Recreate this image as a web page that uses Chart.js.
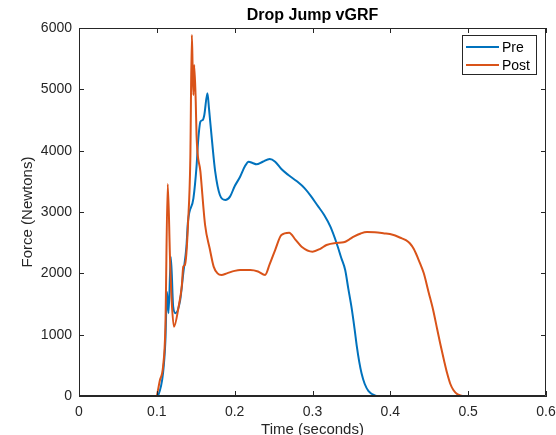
<!DOCTYPE html>
<html>
<head>
<meta charset="utf-8">
<script src="https://cdn.jsdelivr.net/npm/chart.js@4"></script>
<style>
  html, body { margin: 0; padding: 0; background: #fff; }
  #wrap { width: 556px; height: 435px; }
</style>
</head>
<body>
<div id="wrap"><canvas id="grafico" width="556" height="435"></canvas></div>
<script>
// datos (tiempo en s, fuerza en N)
const preTime = [0, 0.1, 0.102, 0.108, 0.111, 0.113, 0.115, 0.118, 0.121, 0.124, 0.13, 0.134, 0.138, 0.14, 0.147, 0.151, 0.153, 0.156, 0.159, 0.161, 0.165, 0.167, 0.171, 0.175, 0.181, 0.188, 0.194, 0.2, 0.207, 0.213, 0.218, 0.223, 0.228, 0.236, 0.245, 0.252, 0.26, 0.269, 0.28, 0.29, 0.298, 0.306, 0.315, 0.323, 0.331, 0.337, 0.342, 0.346, 0.35, 0.354, 0.357, 0.36, 0.363, 0.367, 0.372, 0.38, 0.385, 0.577];
const preForce = [0, 0, 20, 375, 900, 1700, 1350, 2270, 1456, 1350, 1565, 2005, 2434, 2842, 3223, 3740, 4147, 4473, 4500, 4581, 4935, 4690, 4147, 3657, 3277, 3196, 3250, 3420, 3575, 3740, 3820, 3800, 3778, 3820, 3864, 3820, 3700, 3603, 3500, 3386, 3260, 3114, 2950, 2760, 2490, 2250, 2054, 1750, 1456, 1100, 804, 560, 370, 200, 80, 10, 0, 0];

const postTime = [0, 0.099, 0.104, 0.108, 0.111, 0.114, 0.117, 0.119, 0.122, 0.128, 0.132, 0.134, 0.136, 0.138, 0.14, 0.143, 0.145, 0.146, 0.147, 0.148, 0.15, 0.151, 0.156, 0.162, 0.168, 0.173, 0.178, 0.183, 0.19, 0.2, 0.207, 0.22, 0.23, 0.239, 0.245, 0.252, 0.26, 0.27, 0.278, 0.286, 0.3, 0.31, 0.318, 0.33, 0.34, 0.347, 0.353, 0.362, 0.37, 0.38, 0.391, 0.403, 0.413, 0.42, 0.425, 0.43, 0.437, 0.443, 0.449, 0.455, 0.46, 0.464, 0.469, 0.473, 0.477, 0.481, 0.486, 0.49, 0.495, 0.548];
const postForce = [0, 0, 260, 480, 1130, 3457, 2218, 1565, 1130, 1456, 1782, 2108, 2136, 2330, 2790, 3848, 5886, 5350, 4908, 5397, 4800, 4256, 3657, 2788, 2400, 2110, 2000, 1973, 2000, 2040, 2054, 2054, 2030, 1973, 2150, 2380, 2625, 2663, 2550, 2434, 2353, 2400, 2462, 2495, 2506, 2550, 2597, 2650, 2674, 2670, 2653, 2630, 2580, 2540, 2490, 2400, 2200, 2000, 1700, 1402, 1100, 859, 580, 370, 200, 98, 30, 10, 0, 0];

const xTicks = [0, 0.1, 0.2, 0.3, 0.4, 0.5, 0.6];
const yTicks = [0, 1000, 2000, 3000, 4000, 5000, 6000];

const nombres = ["Pre", "Post"];
const colores = ["#0072BD", "#D95319"];
const fuente = "'Liberation Sans', Arial, Helvetica, sans-serif";
const gris = "#262626";

const puntos = (ts, fs) => ts.map((t, i) => ({ x: t, y: fs[i] }));

// caja, marcas hacia dentro, titulo y leyenda (estilo MATLAB)
const estiloMatlab = {
  id: "estiloMatlab",
  afterDraw(chart) {
    const ctx = chart.ctx;
    const a = chart.chartArea;
    const sx = chart.scales.x;
    const sy = chart.scales.y;
    ctx.save();
    ctx.strokeStyle = gris;
    ctx.lineWidth = 1;
    ctx.beginPath();
    ctx.rect(a.left + 0.5, a.top + 0.5, a.right - a.left - 1, a.bottom - a.top - 1);
    const largo = 5;
    xTicks.forEach((v) => {
      const px = Math.round(sx.getPixelForValue(v)) + 0.5;
      ctx.moveTo(px, a.bottom);
      ctx.lineTo(px, a.bottom - largo);
      ctx.moveTo(px, a.top);
      ctx.lineTo(px, a.top + largo);
    });
    yTicks.forEach((v) => {
      const py = Math.round(sy.getPixelForValue(v)) + 0.5;
      ctx.moveTo(a.left, py);
      ctx.lineTo(a.left + largo, py);
      ctx.moveTo(a.right, py);
      ctx.lineTo(a.right - largo, py);
    });
    ctx.stroke();

    // titulo
    ctx.fillStyle = "#000";
    ctx.font = "bold 16px " + fuente;
    ctx.textAlign = "center";
    ctx.textBaseline = "middle";
    ctx.fillText("Drop Jump vGRF", (a.left + a.right) / 2, 16);

    // leyenda
    const lx = 462, ly = 35, lw = 75, lh = 40;
    ctx.fillStyle = "#fff";
    ctx.fillRect(lx, ly, lw, lh);
    ctx.strokeStyle = gris;
    ctx.strokeRect(lx + 0.5, ly + 0.5, lw - 1, lh - 1);
    ctx.font = "14px " + fuente;
    ctx.textAlign = "left";
    nombres.forEach((n, i) => {
      const yy = ly + 12 + i * 18;
      ctx.strokeStyle = colores[i];
      ctx.lineWidth = 2;
      ctx.beginPath();
      ctx.moveTo(lx + 4, yy);
      ctx.lineTo(lx + 37, yy);
      ctx.stroke();
      ctx.fillStyle = "#000";
      ctx.fillText(n, lx + 40, yy + 1);
    });
    ctx.restore();
  },
};

const ctx = document.getElementById("grafico").getContext("2d");

new Chart(ctx, {
  type: "line",
  data: {
    datasets: [
      {
        label: nombres[0],
        data: puntos(preTime, preForce),
        borderColor: colores[0],
        backgroundColor: colores[0],
        borderWidth: 2,
        pointRadius: 0,
        cubicInterpolationMode: "monotone",
        order: 1,
      },
      {
        label: nombres[1],
        data: puntos(postTime, postForce),
        borderColor: colores[1],
        backgroundColor: colores[1],
        borderWidth: 2,
        pointRadius: 0,
        cubicInterpolationMode: "monotone",
        order: 0,
      },
    ],
  },
  options: {
    responsive: false,
    animation: false,
    events: [],
    layout: {
      padding: { top: 28, right: 10, left: 0, bottom: 0 },
    },
    plugins: {
      legend: { display: false },
      title: { display: false },
      tooltip: { enabled: false },
    },
    scales: {
      x: {
        type: "linear",
        min: 0,
        max: 0.6,
        afterFit: (s) => {
          s.height = 39;
          s.paddingLeft = 0;
          s.paddingRight = 0;
        },
        afterBuildTicks: (s) => { s.ticks = xTicks.map((v) => ({ value: v })); },
        ticks: {
          color: gris,
          padding: 8,
          font: { family: fuente, size: 14 },
          callback: (v) => String(Math.round(v * 10) / 10),
        },
        grid: { display: true, drawOnChartArea: false, drawTicks: false },
        border: { display: true, color: gris, width: 1 },
        title: {
          display: true,
          text: "Time (seconds)",
          color: gris,
          font: { family: fuente, size: 15, lineHeight: "11px" },
          padding: { top: 0, bottom: 0 },
        },
      },
      y: {
        min: 0,
        max: 6000,
        afterFit: (s) => {
          s.width = 79;
          s.paddingTop = 0;
          s.paddingBottom = 0;
        },
        afterBuildTicks: (s) => { s.ticks = yTicks.map((v) => ({ value: v })); },
        ticks: {
          color: gris,
          padding: 7,
          font: { family: fuente, size: 14 },
          callback: (v) => String(v),
        },
        grid: { display: true, drawOnChartArea: false, drawTicks: false },
        border: { display: true, color: gris, width: 1 },
        title: {
          display: true,
          text: "Force (Newtons)",
          color: gris,
          font: { family: fuente, size: 15, lineHeight: 1.2 },
          padding: { top: 19, bottom: 0 },
        },
      },
    },
  },
  plugins: [estiloMatlab],
});
</script>
</body>
</html>
